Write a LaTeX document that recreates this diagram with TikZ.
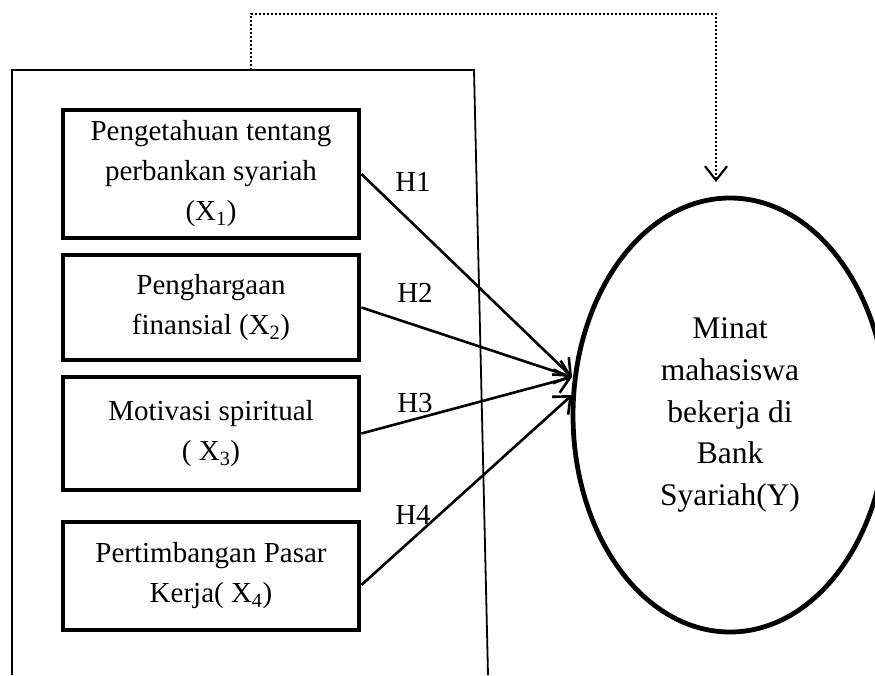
\documentclass[tikz,border=0pt]{standalone}
\usepackage{fontspec}
\setmainfont{Liberation Serif}
\usetikzlibrary{shapes.geometric,arrows.meta}
\tikzset{
  varbox/.style={draw, line width=4.8pt, minimum width=296pt, align=center,
    font=\fontsize{29}{40}\selectfont, inner sep=0pt},
  hyplabel/.style={font=\fontsize{29}{34}\selectfont},
  hyparrow/.style={line width=2.6pt, -{Straight Barb[length=14pt,width=24pt,line width=2.6pt]}}
}
\begin{document}
\begin{tikzpicture}[x=1pt,y=-1pt]
\useasboundingbox (0,0) rectangle (875,675);

\draw[line width=1.8pt] (12,675) -- (12,70) -- (474,70) -- (488,675);

\coordinate (dstart) at (251,70);
\coordinate (dup) at (251,14);
\coordinate (dright) at (716,14);
\coordinate (dtip) at (716,182);
\draw[line width=2.6pt, dash pattern=on 2pt off 2pt, -{Straight Barb[length=14pt,width=22pt,line width=2.2pt]}]
  (dstart) -- (dup) -- (dright) -- (dtip);

\node[varbox, minimum height=128pt] (x1) at (211,174) {Pengetahuan tentang\\perbankan syariah\\(X\textsubscript{1})};
\node[varbox, minimum height=105pt] (x2) at (211,307.5) {Penghargaan\\finansial (X\textsubscript{2})};
\node[varbox, minimum height=113pt] (x3) at (211,433.5) {Motivasi spiritual\\( X\textsubscript{3})};
\node[varbox, minimum height=108pt] (x4) at (211,576) {Pertimbangan Pasar\\Kerja( X\textsubscript{4})};

\node[draw, ellipse, line width=4.8pt, minimum width=314pt, minimum height=434pt, align=center,
  font=\fontsize{31.5}{41.7}\selectfont] (y) at (730,415) {Minat\\mahasiswa\\bekerja di\\Bank\\Syariah(Y)};

\coordinate (tipa) at (572,377);
\coordinate (tipb) at (572,395);

\draw[hyparrow] (x1.east) -- (tipa);
\draw[hyparrow] (x2.east) -- (tipa);
\draw[hyparrow] (x3.east) -- (tipa);
\draw[hyparrow] ([yshift=-9pt]x4.east) -- (tipb);

\node[hyplabel] (h1) at (413,182) {H1};
\node[hyplabel] (h2) at (415,293) {H2};
\node[hyplabel] (h3) at (415,403) {H3};
\node[hyplabel] (h4) at (413,515) {H4};
\end{tikzpicture}
\end{document}
